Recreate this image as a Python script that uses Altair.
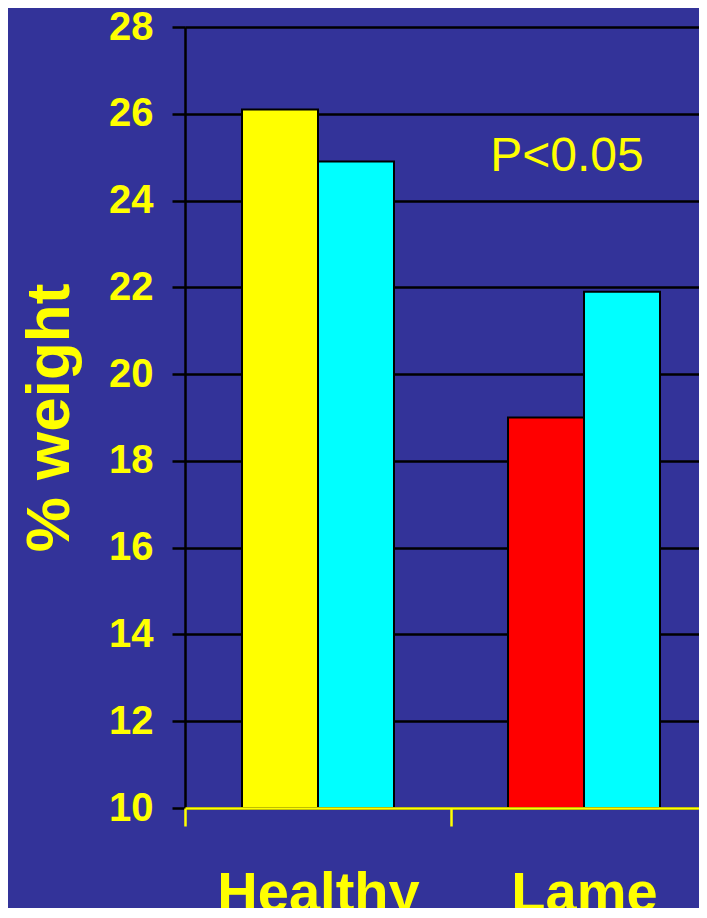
import altair as alt
import pandas as pd

# ---- data ----
groups = ["Healthy", "Healthy", "Lame", "Lame"]
series = ["A", "B", "A", "B"]
values = [26.1, 24.9, 19.0, 21.9]
bar_keys = ["Healthy A", "Healthy B", "Lame A", "Lame B"]
bar_colors = ["#FFFF00", "#00FFFF", "#FF0000", "#00FFFF"]

y_ticks = [10, 12, 14, 16, 18, 20, 22, 24, 26, 28]

annot_group = ["Lame"]
annot_value = [25.0]
annot_text = ["P<0.05"]

YELLOW = "#FFFF00"
BG = "#333399"

df = pd.DataFrame({"group": groups, "series": series, "value": values, "key": bar_keys})
adf = pd.DataFrame({"group": annot_group, "value": annot_value, "label": annot_text})

x_enc = alt.X(
    "group:N",
    sort=["Healthy", "Lame"],
    scale=alt.Scale(domain=["Healthy", "Lame"], range=[0, 532], paddingInner=0, paddingOuter=0),
    axis=alt.Axis(
        title=None, labelAngle=0, labelFontSize=56, labelFontWeight="bold", labelColor=YELLOW,
        labelPadding=40, labelLimit=0, domainColor=YELLOW, domainWidth=2.5, tickColor=YELLOW,
        tickWidth=2.5, tickSize=18, tickBand="extent", grid=False, zindex=1,
    ),
)

y_enc = alt.Y(
    "value:Q",
    scale=alt.Scale(domain=[10, 28], nice=False, zero=False),
    axis=alt.Axis(
        values=y_ticks, title="% weight", titleFontSize=62, titleFontWeight="bold", titleColor=YELLOW,
        titleX=-117, titleBaseline="alphabetic",
        labelFontSize=40, labelFontWeight="bold", labelColor=YELLOW, labelPadding=19,
        domainColor="black", domainWidth=2.5, tickColor="black", tickWidth=2.5, tickSize=13,
        grid=True, gridColor="black", gridWidth=2.5, zindex=0,
    ),
)

bars = alt.Chart(df).mark_bar(stroke="black", strokeWidth=2).encode(
    x=x_enc,
    xOffset=alt.XOffset("series:N", scale=alt.Scale(paddingInner=0, paddingOuter=0.75)),
    y=y_enc,
    y2=alt.datum(10),
    color=alt.Color("key:N", scale=alt.Scale(domain=bar_keys, range=bar_colors), legend=None),
)

text = alt.Chart(adf).mark_text(
    fontSize=48, color=YELLOW, dx=-17, baseline="middle", align="center", font="Liberation Sans"
).encode(
    x=alt.X("group:N"),
    y=alt.Y("value:Q"),
    text="label:N",
)

chart = (
    alt.layer(bars, text)
    .properties(
        width=514,
        height=781,
        autosize=alt.AutoSizeParams(type="none"),
        padding={"left": 177, "top": 19, "right": 0, "bottom": 100},
    )
    .configure(background=BG, font="Liberation Sans")
    .configure_view(stroke=None)
)

chart.save("out.html", embed_options={"renderer": "svg", "actions": False})
